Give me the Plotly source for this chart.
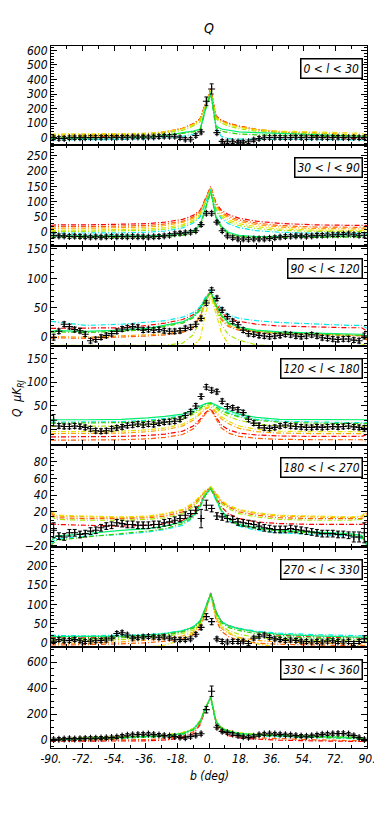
import plotly.graph_objects as go
from plotly.subplots import make_subplots

# latitude grid of the model curves and of the binned data points (deg)
B_MODEL = [-90, -87, -70, -50, -35, -25, -15, -9, -5, -2, 1, 4, 7, 11, 17, 27, 40, 60, 80, 87, 90]
B_DATA = [-88.5, -85.5, -82.5, -79.5, -76.5, -73.5, -70.5, -67.5, -64.5, -61.5,
          -58.5, -55.5, -52.5, -49.5, -46.5, -43.5, -40.5, -37.5, -34.5, -31.5,
          -28.5, -25.5, -22.5, -19.5, -16.5, -13.5, -10.5, -7.5, -4.5, -1.5,
          1.5, 4.5, 7.5, 10.5, 13.5, 16.5, 19.5, 22.5, 25.5, 28.5,
          31.5, 34.5, 37.5, 40.5, 43.5, 46.5, 49.5, 52.5, 55.5, 58.5,
          61.5, 64.5, 67.5, 70.5, 73.5, 76.5, 79.5, 82.5, 85.5, 88.5]

PANEL_LABELS = ["0 < l < 30", "30 < l < 90", "90 < l < 120", "120 < l < 180",
                "180 < l < 270", "270 < l < 330", "330 < l < 360"]

XTICKS = [-90, -72, -54, -36, -18, 0, 18, 36, 54, 72, 90]
XTICK_TEXT = ["-90.", "-72.", "-54.", "-36.", "-18.", "0.", "18.", "36.", "54.", "72.", "90."]

# ---- 0 < l < 30
Q1_RED = [0, 2, 5, 10, 20, 35, 65, 95, 130, 230, 335, 150, 120, 100, 80, 55, 35, 15, -5, -5, 5]
Q1_ORANGERED = [10, 10, 12, 15, 25, 40, 65, 95, 130, 230, 335, 145, 120, 100, 80, 58, 40, 25, 10, 10, 10]
Q1_ORANGE = [20, 20, 20, 22, 30, 42, 65, 92, 125, 225, 330, 140, 115, 95, 75, 55, 42, 35, 25, 20, 15]
Q1_GOLD = [25, 25, 25, 25, 30, 40, 60, 88, 120, 220, 325, 135, 110, 90, 72, 55, 45, 40, 35, 30, 20]
Q1_YGREEN = [10, 10, 12, 15, 22, 32, 50, 80, 110, 210, 320, 130, 100, 80, 62, 45, 35, 28, 20, 15, 10]
Q1_CYAN = [-15, -15, -15, -12, -8, 0, 10, 25, 50, 190, 300, 60, 10, -5, -10, -10, -10, -10, -15, -15, -5]
Q1_SPRING = [-5, -5, -3, 0, 5, 15, 35, 45, 60, 200, 310, 80, 60, 50, 40, 35, 30, 25, 15, 10, 5]
Q1_GREEN = [0, 0, 0, 2, 8, 18, 30, 40, 55, 195, 305, 70, 45, 35, 25, 20, 15, 10, 5, 5, 5]
Q1_DATA = [0, -5, -5, 0, 0, 0, 0, 2, 2, 2,
           3, 3, 3, 3, 3, 5, 5, 5, 5, 5,
           8, 10, 10, 10, 0, -10, -10, 15, 40, 250,
           335, 35, -25, -28, -28, -30, -30, -28, -15, -5,
           0, 2, 3, 2, 0, 2, 3, 2, 0, 2,
           3, 2, 0, 2, 3, 2, 0, 2, 0, 0]
Q1_ERR = [12, 12, 12, 12, 12, 12, 12, 12, 12, 12,
          12, 12, 12, 12, 12, 12, 12, 12, 12, 12,
          12, 12, 12, 12, 12, 12, 12, 12, 14, 30,
          35, 14, 12, 12, 12, 12, 12, 12, 12, 12,
          12, 12, 12, 12, 12, 12, 12, 12, 12, 12,
          12, 12, 12, 12, 12, 12, 12, 12, 12, 12]

# ---- 30 < l < 90
Q2_RED = [22, 24, 24, 25, 28, 33, 42, 55, 72, 110, 150, 95, 72, 58, 46, 36, 29, 24, 22, 22, 22]
Q2_ORANGERED = [17, 18, 18, 19, 22, 27, 36, 50, 68, 108, 148, 90, 66, 52, 40, 30, 22, 17, 16, 16, 18]
Q2_ORANGE = [12, 13, 13, 14, 17, 22, 32, 46, 64, 105, 146, 86, 62, 47, 35, 25, 17, 12, 11, 11, 14]
Q2_GOLD = [6, 7, 7, 8, 11, 15, 25, 40, 58, 100, 144, 80, 56, 40, 28, 18, 11, 7, 6, 6, 8]
Q2_YGREEN = [2, 3, 3, 4, 6, 10, 20, 35, 54, 97, 142, 75, 50, 34, 22, 12, 6, 3, 2, 2, 4]
Q2_CYAN = [-3, -3, -3, -2, 0, 4, 14, 30, 50, 95, 140, 70, 44, 28, 15, 5, 0, -3, -4, -4, -2]
Q2_SPRING = [-12, -12, -13, -13, -12, -10, -5, 5, 25, 80, 135, 50, 20, 0, -10, -14, -14, -13, -12, -12, -8]
Q2_GREEN = [-15, -16, -17, -17, -16, -14, -10, 0, 20, 75, 132, 45, 15, -5, -14, -18, -18, -17, -16, -15, -10]
Q2_DATA = [-10, -12, -12, -14, -13, -14, -15, -16, -15, -16,
           -15, -14, -15, -14, -15, -14, -15, -15, -16, -15,
           -14, -12, -10, -5, -3, -2, 0, 5, 25, 62,
           62, 33, 5, -12, -18, -22, -22, -23, -22, -22,
           -22, -20, -18, -16, -14, -13, -12, -12, -13, -12,
           -10, -10, -9, -8, -8, -7, -6, -8, -10, -10]
Q2_ERR = [8, 6, 6, 6, 6, 6, 6, 6, 6, 6,
          6, 6, 6, 6, 6, 6, 6, 6, 6, 6,
          6, 6, 6, 6, 6, 6, 6, 6, 6, 6,
          6, 6, 6, 6, 6, 6, 6, 6, 6, 6,
          6, 6, 6, 6, 6, 6, 6, 6, 6, 6,
          6, 6, 6, 6, 6, 6, 6, 6, 6, 8]

# ---- 90 < l < 120
Q3_CYAN = [27, 26, 20, 22, 25, 28, 34, 42, 52, 68, 80, 62, 48, 38, 32, 28, 25, 22, 20, 20, 15]
Q3_RED = [15, 15, 15, 16, 20, 24, 30, 38, 50, 66, 78, 58, 42, 32, 27, 22, 19, 17, 16, 16, 10]
Q3_SPRING = [10, 11, 10, 12, 15, 20, 26, 35, 48, 65, 77, 55, 38, 25, 17, 12, 9, 7, 5, 5, 2]
Q3_GREEN = [8, 9, 8, 10, 13, 18, 24, 33, 46, 64, 77, 54, 36, 23, 15, 10, 7, 5, 3, 3, 0]
Q3_ORANGERED = [-2, -1, -2, 0, 2, 4, 8, 16, 35, 60, 76, 50, 30, 18, 12, 8, 6, 5, 3, 2, -5]
Q3_ORANGE = [0, 1, 0, 2, 4, 6, 10, 18, 38, 62, 77, 52, 32, 20, 14, 10, 7, 5, 4, 3, -3]
Q3_GOLD = [-20, -20, -20, -20, -20, -20, -20, -15, -2, 40, 70, 40, 8, -12, -20, -20, -20, -20, -20, -20, -20]
Q3_YGREEN = [-14, -14, -14, -14, -14, -14, -10, 4, 30, 60, 75, 48, 22, 4, -5, -13, -15, -15, -15, -14, -10]
Q3_DATA = [0, 10, 22, 18, 13, 11, 5, -6, -4, 0,
           3, 6, 10, 14, 16, 18, 17, 12, 13, 12,
           13, 11, 10, 10, 11, 15, 17, 22, 32, 58,
           80, 66, 46, 35, 27, 21, 12, 6, 5, 3,
           2, 1, 2, 3, 5, 4, 2, 1, 2, 4,
           2, -1, -2, -3, -4, -3, -3, -5, -6, 2]
Q3_ERR = [5, 4, 4, 4, 4, 4, 4, 4, 4, 4,
          4, 4, 4, 4, 4, 4, 4, 4, 4, 4,
          4, 4, 4, 4, 4, 4, 4, 4, 4, 4,
          4, 4, 4, 4, 4, 4, 4, 4, 4, 4,
          4, 4, 4, 4, 4, 4, 4, 4, 4, 4,
          4, 4, 4, 4, 4, 4, 4, 4, 4, 5]

# ---- 120 < l < 180
Q4_SPRING = [22, 21, 21, 22, 25, 28, 33, 42, 50, 55, 57, 52, 46, 40, 33, 26, 22, 21, 21, 21, 21]
Q4_CYAN = [16, 16, 16, 17, 20, 24, 30, 38, 47, 54, 56, 50, 43, 36, 29, 22, 18, 16, 15, 15, 15]
Q4_GREEN = [14, 14, 14, 15, 18, 22, 28, 36, 45, 53, 56, 48, 40, 34, 27, 20, 16, 14, 13, 13, 13]
Q4_YGREEN = [7, 7, 7, 8, 11, 15, 22, 32, 42, 50, 53, 45, 36, 28, 20, 12, 8, 7, 7, 7, 7]
Q4_GOLD = [-4, -4, -4, -3, 0, 4, 12, 24, 36, 46, 50, 40, 28, 18, 8, 1, -3, -4, -4, -4, -6]
Q4_ORANGE = [-8, -8, -8, -7, -4, 0, 8, 20, 33, 44, 48, 36, 23, 13, 3, -4, -7, -8, -8, -8, -10]
Q4_RED = [-15, -15, -15, -14, -12, -9, -3, 8, 22, 36, 44, 26, 10, 0, -7, -11, -13, -14, -14, -14, -10]
Q4_ORANGERED = [-22, -22, -22, -21, -19, -16, -10, 2, 18, 34, 42, 22, 4, -7, -14, -18, -20, -21, -21, -21, -25]
Q4_DATA = [20, 8, 7, 7, 8, 7, 5, 2, -2, -3,
           -2, 2, 4, 6, 9, 10, 12, 10, 12, 11,
           14, 16, 17, 18, 22, 30, 38, 50, 70, 90,
           83, 80, 60, 49, 46, 42, 36, 22, 14, 9,
           4, 3, 5, 8, 10, 8, 7, 6, 5, 5,
           6, 5, 6, 7, 6, 7, 8, 6, 5, 3]
Q4_ERR = [12, 5, 5, 5, 5, 5, 5, 5, 5, 5,
          5, 5, 5, 5, 5, 5, 5, 5, 5, 5,
          5, 5, 5, 5, 5, 5, 5, 5, 5, 5,
          5, 5, 5, 5, 5, 5, 5, 5, 5, 5,
          5, 5, 5, 5, 5, 5, 5, 5, 5, 5,
          5, 5, 5, 5, 5, 5, 5, 5, 5, 6]

# ---- 180 < l < 270
Q5_ORANGE = [20, 15, 14, 13, 14, 17, 22, 30, 38, 45, 50, 42, 33, 27, 22, 18, 15, 14, 13, 14, 20]
Q5_GOLD = [22, 16, 15, 14, 15, 18, 23, 31, 39, 46, 50, 43, 34, 28, 23, 19, 16, 15, 14, 15, 22]
Q5_YGREEN = [15, 11, 10, 10, 11, 13, 18, 26, 35, 43, 49, 40, 30, 24, 18, 14, 11, 10, 10, 11, 16]
Q5_ORANGERED = [18, 13, 12, 12, 13, 15, 20, 28, 37, 45, 50, 41, 32, 26, 20, 16, 13, 12, 12, 12, 18]
Q5_RED = [6, 5, 4, 3, 4, 6, 10, 18, 30, 42, 49, 38, 26, 18, 12, 8, 6, 5, 5, 5, 8]
Q5_SPRING = [-15, -9, -6, -2, 0, 3, 8, 16, 28, 41, 48, 36, 22, 12, 5, 1, -2, -4, -6, -8, -18]
Q5_CYAN = [-18, -12, -9, -7, -4, -1, 4, 13, 26, 40, 48, 34, 20, 10, 3, -2, -5, -7, -9, -12, -20]
Q5_GREEN = [-20, -14, -10, -6, -3, 0, 6, 14, 27, 40, 47, 35, 21, 11, 4, 0, -3, -5, -7, -10, -20]
Q5_DATA = [-2, -9, -10, -5, -5, -7, -6, -3, -2, 1,
           3, 4, 7, 6, 5, 5, 4, 4, 4, 5,
           5, 7, 8, 10, 12, 16, 18, 22, 12, 28,
           24, 15, 14, 12, 11, 8, 7, 6, 5, 3,
           1, 0, -1, -1, -1, 0, -1, -2, -3, -4,
           -5, -6, -6, -6, -7, -7, -8, -10, -10, -5]
Q5_ERR = [9, 4, 4, 4, 4, 4, 4, 4, 4, 4,
          4, 4, 4, 4, 4, 4, 4, 4, 4, 4,
          4, 4, 4, 4, 4, 4, 4, 4, 11, 6,
          4, 4, 4, 4, 4, 4, 4, 4, 4, 4,
          4, 4, 4, 4, 4, 4, 4, 4, 4, 4,
          4, 4, 4, 4, 4, 4, 4, 6, 6, 12]

# ---- 270 < l < 330
Q6_CYAN = [20, 19, 18, 19, 21, 25, 32, 42, 58, 90, 128, 80, 55, 45, 38, 30, 25, 21, 20, 20, 18]
Q6_SPRING = [16, 16, 16, 17, 20, 24, 31, 41, 57, 90, 128, 80, 55, 44, 36, 28, 22, 18, 16, 16, 14]
Q6_RED = [14, 13, 13, 15, 18, 22, 30, 40, 56, 90, 130, 82, 56, 45, 37, 28, 20, 15, 13, 13, 12]
Q6_GREEN = [10, 10, 11, 13, 16, 20, 28, 38, 54, 88, 126, 78, 52, 40, 32, 23, 16, 12, 10, 10, 8]
Q6_YGREEN = [5, 5, 6, 8, 12, 16, 24, 33, 50, 85, 124, 72, 45, 32, 22, 14, 9, 6, 5, 5, 4]
Q6_ORANGE = [-2, -2, -1, 2, 6, 10, 18, 28, 45, 82, 126, 66, 38, 24, 14, 6, 2, 0, -2, -2, -4]
Q6_ORANGERED = [-6, -6, -5, -3, 0, 4, 10, 20, 38, 78, 128, 60, 30, 16, 6, -1, -4, -6, -7, -7, -8]
Q6_GOLD = [-15, -15, -15, -15, -12, -6, 8, 26, 50, 88, 126, 70, 42, 28, 12, -3, -12, -15, -15, -15, -15]
Q6_DATA = [4, 8, 5, 6, 8, 5, 3, 4, 5, 6,
           7, 12, 24, 26, 20, 12, 13, 15, 16, 15,
           13, 15, 12, 9, 8, 8, 10, 22, 40, 68,
           55, 10, 3, 2, 3, 3, 4, -2, 12, 17,
           20, 14, 10, 8, 6, 7, 6, 4, 3, 2,
           3, 2, 4, 5, 3, 2, 3, -2, 3, 10]
Q6_ERR = [6, 5, 5, 5, 5, 5, 5, 5, 5, 5,
          5, 5, 5, 5, 5, 5, 5, 5, 5, 5,
          5, 5, 5, 5, 5, 5, 5, 5, 6, 8,
          8, 5, 5, 5, 5, 5, 5, 5, 5, 5,
          5, 5, 5, 5, 5, 5, 5, 5, 5, 5,
          5, 5, 5, 5, 5, 5, 5, 5, 5, 8]

# ---- 330 < l < 360
Q7_GOLD = [5, 8, 20, 25, 30, 40, 60, 90, 150, 250, 330, 150, 100, 75, 58, 48, 40, 32, 25, 20, 5]
Q7_YGREEN = [5, 8, 20, 25, 30, 38, 58, 88, 150, 250, 330, 148, 98, 72, 55, 45, 38, 30, 23, 18, 5]
Q7_ORANGE = [0, 3, 12, 17, 22, 30, 50, 82, 145, 250, 332, 145, 92, 65, 48, 38, 30, 22, 15, 10, 0]
Q7_SPRING = [3, 5, 15, 20, 25, 33, 52, 84, 148, 250, 330, 146, 95, 70, 52, 42, 35, 30, 25, 20, 5]
Q7_CYAN = [0, 2, 12, 16, 20, 28, 45, 78, 140, 248, 330, 140, 88, 62, 45, 35, 28, 22, 15, 10, 0]
Q7_GREEN = [2, 4, 13, 18, 22, 30, 48, 80, 142, 248, 328, 142, 90, 65, 48, 38, 32, 25, 18, 12, 2]
Q7_ORANGERED = [-5, -3, 0, 2, 5, 12, 30, 65, 130, 245, 332, 130, 75, 45, 28, 18, 10, 3, -3, -5, -5]
Q7_RED = [-8, -8, -8, -7, -5, 2, 15, 50, 120, 240, 335, 125, 65, 35, 18, 8, 0, -5, -12, -10, 0]
Q7_DATA = [5, 8, 10, 12, 10, 12, 14, 15, 15, 16,
           18, 20, 25, 32, 38, 42, 44, 46, 48, 44,
           40, 36, 32, 28, 22, 18, 28, 38, 50, 235,
           377, 100, 68, 58, 48, 36, 26, 22, 30, 42,
           48, 50, 48, 45, 42, 40, 36, 32, 30, 34,
           40, 45, 48, 50, 52, 52, 48, 35, 20, 5]
Q7_ERR = [12, 12, 12, 12, 12, 12, 12, 12, 12, 12,
          12, 12, 12, 12, 12, 12, 12, 12, 12, 12,
          12, 12, 12, 12, 12, 12, 12, 12, 12, 25,
          40, 14, 12, 12, 12, 12, 12, 12, 12, 12,
          12, 12, 12, 12, 12, 12, 12, 12, 12, 12,
          12, 12, 12, 12, 12, 12, 12, 12, 12, 12]

Y_RANGES = [[-50, 630], [-45, 285], [-15, 155], [-32, 176], [-22, 100], [-12, 250], [-60, 715]]
Y_TICKS = [[0, 100, 200, 300, 400, 500, 600], [0, 50, 100, 150, 200, 250], [0, 50, 100, 150],
           [0, 50, 100, 150], [-20, 0, 20, 40, 60, 80], [0, 50, 100, 150, 200], [0, 200, 400, 600]]
Y_MINOR = [20, 10, 10, 10, 5, 10, 50]

# pixel edges of the seven stacked panels (top of panel 1 -> bottom of panel 7)
EDGES = [38, 137, 238, 338, 437, 539, 639.3, 740]
PLOT_TOP, PLOT_BOT = 38, 740
H = PLOT_BOT - PLOT_TOP

STYLE = {
    "red": ("#ff0000", "dashdot"),
    "orangered": ("#ff5a00", "dashdot"),
    "orange": ("#ffa200", "dashdot"),
    "gold": ("#e8e000", "dashdot"),
    "ygreen": ("#a8e800", "dashdot"),
    "cyan": ("#00e8e8", "dashdot"),
    "spring": ("#00ee70", "solid"),
    "green": ("#30d000", "dashdot"),
}

panels = [
    ({"red": Q1_RED, "orangered": Q1_ORANGERED, "orange": Q1_ORANGE, "gold": Q1_GOLD,
      "ygreen": Q1_YGREEN, "cyan": Q1_CYAN, "spring": Q1_SPRING, "green": Q1_GREEN}, Q1_DATA, Q1_ERR),
    ({"red": Q2_RED, "orangered": Q2_ORANGERED, "orange": Q2_ORANGE, "gold": Q2_GOLD,
      "ygreen": Q2_YGREEN, "cyan": Q2_CYAN, "spring": Q2_SPRING, "green": Q2_GREEN}, Q2_DATA, Q2_ERR),
    ({"red": Q3_RED, "orangered": Q3_ORANGERED, "orange": Q3_ORANGE, "gold": Q3_GOLD,
      "ygreen": Q3_YGREEN, "cyan": Q3_CYAN, "spring": Q3_SPRING, "green": Q3_GREEN}, Q3_DATA, Q3_ERR),
    ({"red": Q4_RED, "orangered": Q4_ORANGERED, "orange": Q4_ORANGE, "gold": Q4_GOLD,
      "ygreen": Q4_YGREEN, "cyan": Q4_CYAN, "spring": Q4_SPRING, "green": Q4_GREEN}, Q4_DATA, Q4_ERR),
    ({"red": Q5_RED, "orangered": Q5_ORANGERED, "orange": Q5_ORANGE, "gold": Q5_GOLD,
      "ygreen": Q5_YGREEN, "cyan": Q5_CYAN, "spring": Q5_SPRING, "green": Q5_GREEN}, Q5_DATA, Q5_ERR),
    ({"red": Q6_RED, "orangered": Q6_ORANGERED, "orange": Q6_ORANGE, "gold": Q6_GOLD,
      "ygreen": Q6_YGREEN, "cyan": Q6_CYAN, "spring": Q6_SPRING, "green": Q6_GREEN}, Q6_DATA, Q6_ERR),
    ({"red": Q7_RED, "orangered": Q7_ORANGERED, "orange": Q7_ORANGE, "gold": Q7_GOLD,
      "ygreen": Q7_YGREEN, "cyan": Q7_CYAN, "spring": Q7_SPRING, "green": Q7_GREEN}, Q7_DATA, Q7_ERR),
]

FONT = dict(family="Liberation Sans Narrow, DejaVu Sans Condensed, Liberation Sans, Arial",
            size=12, color="black", style="italic")

fig = make_subplots(rows=7, cols=1, shared_xaxes=True, vertical_spacing=0)

for i, (models, qdat, qerr) in enumerate(panels):
    row = i + 1
    for key, yvals in models.items():
        color, dash = STYLE[key]
        fig.add_trace(go.Scatter(x=B_MODEL, y=yvals, mode="lines",
                                 line=dict(color=color, width=1.2,
                                           dash="5px,2px,1px,2px" if dash == "dashdot" else "solid"),
                                 hoverinfo="skip"), row=row, col=1)
    fig.add_trace(go.Scatter(x=B_DATA, y=qdat, mode="markers",
                             marker=dict(symbol="cross-thin", size=5, color="black",
                                         line=dict(color="black", width=1.1)),
                             error_y=dict(type="data", array=qerr, color="black",
                                          thickness=1, width=2)),
                  row=row, col=1)

    top, bot = EDGES[i], EDGES[i + 1]
    dom = [max(0.0, (PLOT_BOT - bot) / H), min(1.0, (PLOT_BOT - top) / H)]
    fig.update_yaxes(domain=dom, range=Y_RANGES[i], tickvals=Y_TICKS[i], automargin=False,
                     ticks="inside", ticklen=6, tickcolor="black",
                     minor=dict(dtick=Y_MINOR[i], ticks="inside", ticklen=3, tickcolor="black"),
                     showline=True, linecolor="black", linewidth=1, mirror="ticks",
                     showgrid=False, zeroline=False, tickfont=FONT, row=row, col=1)
    fig.update_xaxes(range=[-90, 90], tickvals=XTICKS, ticktext=XTICK_TEXT, automargin=False,
                     ticks="inside", ticklen=5, tickcolor="black",
                     minor=dict(dtick=9, tick0=0, ticks="inside", ticklen=3, tickcolor="black"),
                     showline=True, linecolor="black", linewidth=1, mirror="ticks",
                     showgrid=False, zeroline=False, tickfont=FONT,
                     showticklabels=(row == 7), row=row, col=1)

    fig.add_annotation(xref="paper", yref="paper", x=(354.5 - 43) / 316,
                       y=(PLOT_BOT - top - 12) / H, xanchor="right", yanchor="top",
                       text=PANEL_LABELS[i].replace("<", "&lt;"), showarrow=False,
                       font=FONT, bgcolor="white", bordercolor="black", borderwidth=1.5,
                       borderpad=2)

fig.add_annotation(xref="paper", yref="paper", x=0.5, y=(PLOT_BOT - 20) / H,
                   text="Q", showarrow=False, font=dict(FONT, size=14),
                   xanchor="center", yanchor="middle")
fig.add_annotation(xref="paper", yref="paper", x=(10 - 43) / 316, y=(PLOT_BOT - 390) / H,
                   text="Q  μK<sub>RJ</sub>", showarrow=False, textangle=-90, font=FONT,
                   xanchor="center", yanchor="middle")
fig.add_annotation(xref="paper", yref="paper", x=0.5, y=(PLOT_BOT - 768) / H,
                   text="b (deg)", showarrow=False, font=FONT,
                   xanchor="center", yanchor="middle")

fig.update_layout(width=382, height=817, showlegend=False,
                  margin=dict(l=43, r=23, t=PLOT_TOP, b=817 - PLOT_BOT, autoexpand=False),
                  paper_bgcolor="white", plot_bgcolor="white")

fig.write_html("out.html")
